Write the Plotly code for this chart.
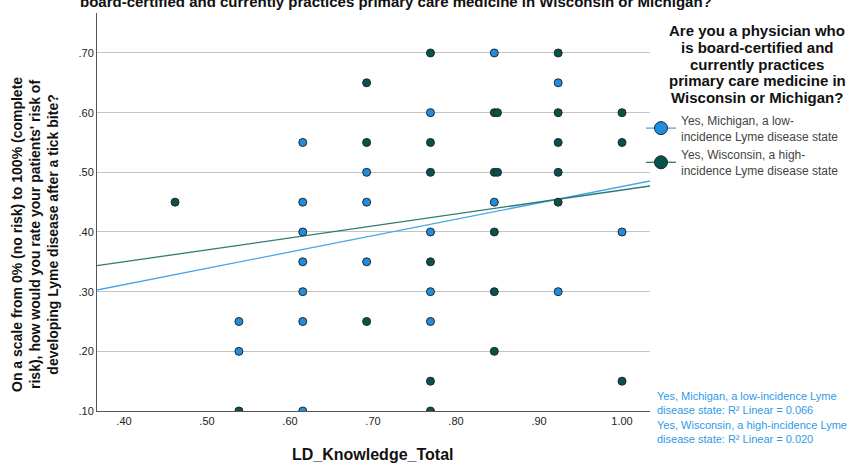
import plotly.graph_objects as go

# Knowledge score (share of 13 items correct) and rated risk, by state group
mi_knowledge = [7/13, 7/13,
                8/13, 8/13, 8/13, 8/13, 8/13, 8/13, 8/13,
                9/13, 9/13, 9/13,
                10/13, 10/13, 10/13, 10/13,
                11/13, 11/13,
                12/13, 12/13,
                1.0]
mi_risk = [0.25, 0.20,
           0.55, 0.45, 0.40, 0.35, 0.30, 0.25, 0.10,
           0.50, 0.45, 0.35,
           0.60, 0.40, 0.30, 0.25,
           0.70, 0.45,
           0.65, 0.30,
           0.40]

wi_knowledge = [6/13,
                7/13,
                9/13, 9/13, 9/13,
                10/13, 10/13, 10/13, 10/13, 10/13, 10/13,
                11/13, 11/13, 11/13, 11/13, 11/13,
                0.85, 0.85,
                12/13, 12/13, 12/13, 12/13, 12/13,
                1.0, 1.0, 1.0]
wi_risk = [0.45,
           0.10,
           0.65, 0.55, 0.25,
           0.70, 0.55, 0.50, 0.35, 0.15, 0.10,
           0.60, 0.50, 0.40, 0.30, 0.20,
           0.60, 0.50,
           0.70, 0.60, 0.55, 0.50, 0.45,
           0.60, 0.55, 0.15]

# Linear fit per group: intercept, slope, R squared
mi_fit = {"intercept": 0.2020, "slope": 0.2742, "r2": 0.066}
wi_fit = {"intercept": 0.2698, "slope": 0.2005, "r2": 0.020}

group_names = ["Yes, Michigan, a low-<br>incidence Lyme disease state",
               "Yes, Wisconsin, a high-<br>incidence Lyme disease state"]
fit_labels = ["Yes, Michigan, a low-incidence Lyme<br>disease state",
              "Yes, Wisconsin, a high-incidence Lyme<br>disease state"]
legend_title_lines = ["Are you a physician who",
                      "is board-certified and",
                      "currently practices",
                      "primary care medicine in",
                      "Wisconsin or Michigan?"]

x_ticks = [0.40, 0.50, 0.60, 0.70, 0.80, 0.90, 1.00]
x_tick_text = [".40", ".50", ".60", ".70", ".80", ".90", "1.00"]
y_ticks = [0.10, 0.20, 0.30, 0.40, 0.50, 0.60, 0.70]
y_tick_text = [".10", ".20", ".30", ".40", ".50", ".60", ".70"]

x_range = [0.3675, 1.0337]
y_range = [0.10, 0.767]

MI_FILL = "#1f8de0"
WI_FILL = "#08524c"
MI_LINE = "#4aa6ea"
WI_LINE = "#2f7a71"
OUTLINE = "#262626"
FONT = "Liberation Sans, Arial, sans-serif"

W, H = 866, 464
L, R, T, B = 97, 216, 13, 53
PW, PH = W - L - R, H - T - B


def px_x(px):
    return (px - L) / PW


def px_y(py):
    return (H - B - py) / PH


fig = go.Figure()

# Fit lines across the full x range
for fit, color in ((mi_fit, MI_LINE), (wi_fit, WI_LINE)):
    fig.add_trace(go.Scatter(
        x=x_range,
        y=[fit["intercept"] + fit["slope"] * v for v in x_range],
        mode="lines", line=dict(color=color, width=1.3),
        showlegend=False, hoverinfo="skip"))

# Scatter points
for xs, ys, fill, name in ((mi_knowledge, mi_risk, MI_FILL, group_names[0]),
                           (wi_knowledge, wi_risk, WI_FILL, group_names[1])):
    fig.add_trace(go.Scatter(
        x=xs, y=ys, mode="markers", name=name, showlegend=False,
        marker=dict(size=8, color=fill, line=dict(color=OUTLINE, width=1))))

# Legend entries: marker with the fit-line colour
for fill, line, name in ((MI_FILL, MI_LINE, group_names[0]),
                         (WI_FILL, WI_LINE, group_names[1])):
    fig.add_trace(go.Scatter(
        x=[None], y=[None], mode="lines+markers", name=name,
        line=dict(color=line, width=1.3),
        marker=dict(size=13, color=fill, line=dict(color=OUTLINE, width=1))))

axis_common = dict(showline=True, linecolor="#555555", linewidth=1,
                   ticks="", zeroline=False,
                   tickfont=dict(family=FONT, size=11, color="#222222"))

fig.update_xaxes(range=x_range, tickvals=x_ticks, ticktext=x_tick_text,
                 showgrid=False, **axis_common)
fig.update_yaxes(range=y_range, tickvals=y_ticks, ticktext=y_tick_text,
                 showgrid=True, gridcolor="#c4c4c4", gridwidth=1,
                 **axis_common)

annotations = [
    dict(text="<b>board-certified and currently practices primary care medicine in Wisconsin or Michigan?</b>",
         x=px_x(396), y=px_y(1), xref="paper", yref="paper",
         xanchor="center", yanchor="middle", showarrow=False,
         font=dict(family=FONT, size=15, color="#111111")),
    dict(text="<b>LD_Knowledge_Total</b>",
         x=px_x(373), y=px_y(454), xref="paper", yref="paper",
         xanchor="center", yanchor="middle", showarrow=False,
         font=dict(family=FONT, size=16, color="#111111")),
    dict(text="<b>On a scale from 0% (no risk) to 100% (complete<br>risk), how would you rate your patients' risk of<br>developing Lyme disease after a tick bite?</b>",
         x=px_x(35), y=px_y(235), xref="paper", yref="paper",
         xanchor="center", yanchor="middle", showarrow=False, textangle=-90,
         font=dict(family=FONT, size=14, color="#111111")),
    dict(text="<br>".join(f"{lab}: R\u00b2 Linear = {fit['r2']:.3f}"
                          for lab, fit in zip(fit_labels, (mi_fit, wi_fit))),
         x=px_x(655), y=px_y(388), xref="paper", yref="paper",
         xanchor="left", yanchor="top", align="left", showarrow=False,
         font=dict(family=FONT, size=11, color="#2f9ae6")),
]

# Legend heading, centred, one line at a time
for i, line in enumerate(legend_title_lines):
    annotations.append(dict(
        text=f"<b>{line}</b>", x=px_x(757), y=px_y(30 + 17 * i),
        xref="paper", yref="paper", xanchor="center", yanchor="middle",
        showarrow=False, font=dict(family=FONT, size=15, color="#111111")))

fig.update_layout(
    width=W, height=H,
    margin=dict(l=L, r=R, t=T, b=B),
    paper_bgcolor="white", plot_bgcolor="white",
    font=dict(family=FONT),
    annotations=annotations,
    legend=dict(
        x=px_x(641), y=px_y(106), xanchor="left", yanchor="top",
        font=dict(family=FONT, size=12, color="#444444"),
        bgcolor="rgba(0,0,0,0)", tracegroupgap=0, itemwidth=30),
)

fig.write_html("out.html")
